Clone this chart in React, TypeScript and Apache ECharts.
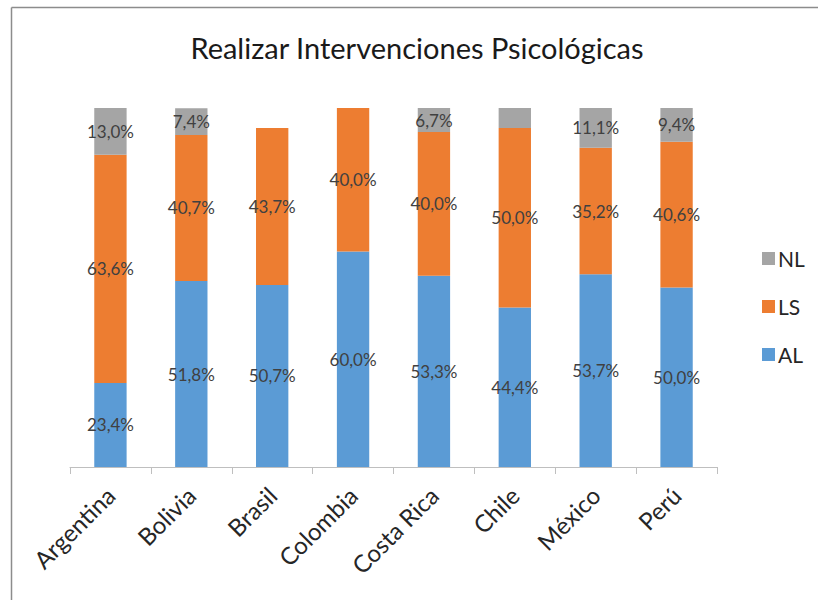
import React, { useEffect, useRef } from "react";
import * as echarts from "echarts";

const categories = ["Argentina", "Bolivia", "Brasil", "Colombia", "Costa Rica", "Chile", "México", "Perú"];
const alValues = [23.4, 51.8, 50.7, 60.0, 53.3, 44.4, 53.7, 50.0];
const lsValues = [63.6, 40.7, 43.7, 40.0, 40.0, 50.0, 35.2, 40.6];
const nlValues = [13.0, 7.4, 0, 0, 6.7, 5.6, 11.1, 9.4];
const nlLabelShown = [true, true, false, false, true, false, true, true];

const FONT = "Lato, 'Open Sans', sans-serif";

const fmt = (v: number) => v.toFixed(1).replace(".", ",") + "%";

export default function App() {
  const ref = useRef<HTMLDivElement>(null);
  useEffect(() => {
    if (!ref.current) return;
    const chart = echarts.init(ref.current, undefined, { renderer: "svg" });
    const label = {
      show: true,
      position: "inside" as const,
      color: "#404040",
      fontSize: 17,
      fontFamily: FONT,
      formatter: (p: any) => fmt(p.value),
    };
    chart.setOption({
      animation: false,
      backgroundColor: "#ffffff",
      title: {
        text: "Realizar Intervenciones Psicológicas",
        left: 412,
        textAlign: "center",
        top: 28,
        textStyle: { fontFamily: FONT, fontSize: 29, fontWeight: "normal", color: "#1a1a1a" },
      },
      legend: {
        orient: "vertical",
        left: 757,
        top: 243,
        itemWidth: 13,
        itemHeight: 13,
        itemGap: 27,
        icon: "rect",
        data: ["NL", "LS", "AL"],
        textStyle: { fontFamily: FONT, fontSize: 21, color: "#262626", padding: [0, 0, 0, -2] },
      },
      grid: { left: 70, right: 101, top: 108, bottom: 133 },
      xAxis: {
        type: "category",
        data: categories,
        axisLine: { lineStyle: { color: "#bfbfbf", width: 1 } },
        axisTick: { show: true, length: 7, lineStyle: { color: "#bfbfbf" } },
        axisLabel: {
          rotate: 45,
          fontFamily: FONT,
          fontSize: 24,
          color: "#262626",
          margin: 24,
          interval: 0,
        },
      },
      yAxis: {
        type: "value",
        min: 0,
        max: 100,
        show: false,
        splitLine: { show: false },
      },
      graphic: [
        { type: "line", shape: { x1: 11.5, y1: 7.5, x2: 818, y2: 7.5 }, style: { stroke: "#8c8c8c", lineWidth: 1.5 } },
        { type: "line", shape: { x1: 11.5, y1: 7.5, x2: 11.5, y2: 600 }, style: { stroke: "#8c8c8c", lineWidth: 1.5 } },
      ],
      series: [
        {
          name: "AL",
          type: "bar",
          stack: "total",
          barCategoryGap: "60%",
          data: alValues,
          itemStyle: { color: "#5b9bd5" },
          label,
        },
        {
          name: "LS",
          type: "bar",
          stack: "total",
          data: lsValues,
          itemStyle: { color: "#ed7d31" },
          label,
        },
        {
          name: "NL",
          type: "bar",
          stack: "total",
          data: nlValues.map((v, i) => ({ value: v, label: { show: nlLabelShown[i] } })),
          itemStyle: { color: "#a5a5a5" },
          label,
        },
      ],
    });
    return () => chart.dispose();
  }, []);
  return <div ref={ref} style={{ position: "fixed", left: 0, top: 0, width: 818, height: 600 }} />;
}
